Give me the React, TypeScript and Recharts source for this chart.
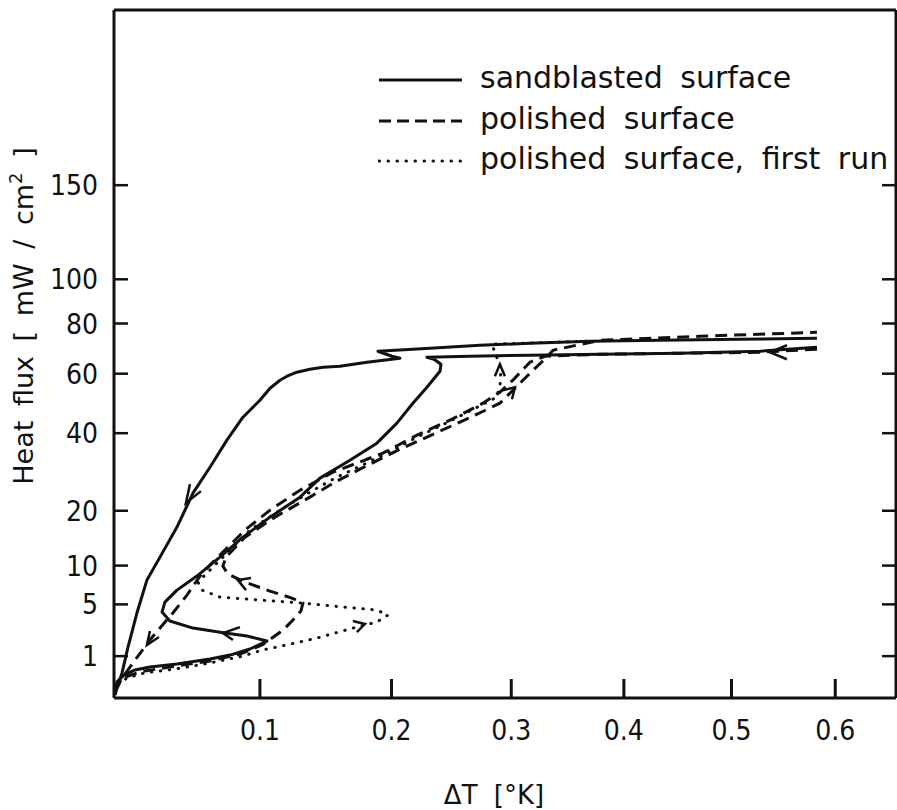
import { LineChart, Line, XAxis, YAxis, Legend } from 'recharts';

// Heat flux [mW/cm2] against ΔT [°K].
const xTicks = [0.1, 0.2, 0.3, 0.4, 0.5, 0.6];
const yTicks = [1, 5, 10, 20, 40, 60, 80, 100, 150];
const xDomain = [0.01, 0.66];
const yDomain = [0, 270];

// [ΔT, q] pairs in drawing order
const sandHeating = [
  [0.0105, 0.02], [0.0114, 0.15], [0.0149, 0.3], [0.0206, 0.45], [0.0288, 0.55], [0.0448, 0.66],
  [0.0658, 0.87], [0.0792, 1.05], [0.093, 1.37], [0.105, 1.85], [0.0909, 2.19], [0.0758, 2.41],
  [0.0548, 2.79], [0.0405, 3.38], [0.0358, 4.21], [0.0375, 5.25], [0.0448, 6.64], [0.0573, 8.48],
  [0.0724, 11.32], [0.0881, 14.76], [0.1072, 18.66], [0.1291, 23.01], [0.1441, 27.57], [0.1671, 32.26],
  [0.1883, 37.04], [0.2043, 43.08], [0.2173, 49.57], [0.2288, 55.09], [0.2396, 60.91], [0.2404, 63.54],
  [0.2346, 65.46], [0.2288, 66.23], [0.2647, 66.62], [0.3162, 67.01], [0.3783, 67.4], [0.4516, 67.8],
  [0.5271, 68.59], [0.5821, 70.18],
];
const sandCooling = [
  [0.5821, 73.82], [0.508, 73.41], [0.433, 73.0], [0.3693, 72.6], [0.3162, 71.78], [0.2732, 70.98],
  [0.2313, 69.78], [0.1891, 68.59], [0.2003, 66.62], [0.2068, 65.85], [0.1804, 64.31], [0.1593, 62.78],
  [0.1464, 62.41], [0.1365, 61.65], [0.1268, 60.54], [0.1195, 59.06], [0.1144, 57.6], [0.1072, 54.74],
  [0.1, 50.58], [0.0881, 44.98], [0.0771, 37.92], [0.0658, 30.39], [0.0548, 23.94], [0.0448, 16.66],
  [0.0346, 11.32], [0.0271, 7.93], [0.0216, 4.12], [0.0169, 1.48], [0.0139, 0.36], [0.0114, 0.057],
  [0.0105, 0.005],
];
const polishedHeating = [
  [0.0105, 0.02], [0.0119, 0.13], [0.0154, 0.25], [0.0233, 0.39], [0.0405, 0.55], [0.0658, 0.78],
  [0.086, 1.1], [0.1015, 1.6], [0.1086, 2.05], [0.1166, 2.63], [0.1239, 3.47], [0.1298, 4.31],
  [0.1313, 5.14], [0.1231, 5.7], [0.1072, 6.52], [0.0895, 7.66], [0.0778, 8.76], [0.0744, 9.92],
  [0.0765, 11.32], [0.0895, 14.76], [0.1108, 18.66], [0.1365, 23.01], [0.1555, 26.58], [0.1749, 29.87],
  [0.2068, 35.32], [0.2396, 40.61], [0.2672, 45.3], [0.2902, 49.57], [0.3014, 54.03], [0.3188, 61.28],
  [0.3311, 66.23], [0.3364, 68.98], [0.3783, 73.0], [0.4703, 74.64], [0.5821, 76.3],
];
const polishedCooling = [
  [0.5821, 69.38], [0.5271, 68.19], [0.4516, 67.8], [0.3783, 67.4], [0.3293, 66.62], [0.3162, 64.31],
  [0.3014, 57.6], [0.2902, 53.34], [0.2757, 49.57], [0.2479, 44.02], [0.2206, 39.4], [0.1931, 34.19],
  [0.154, 29.09], [0.1291, 24.64], [0.1072, 20.13], [0.0895, 16.08], [0.0758, 12.48], [0.0658, 10.08],
  [0.0593, 8.48], [0.051, 6.04], [0.0423, 4.12], [0.0346, 2.79], [0.0288, 1.92], [0.0206, 0.82],
  [0.0139, 0.23], [0.0109, 0.036],
];
const firstRun = [
  [0.0105, 0.014], [0.0124, 0.11], [0.0164, 0.23], [0.026, 0.36], [0.0436, 0.48], [0.0658, 0.7],
  [0.0881, 1.0], [0.1015, 1.31], [0.1122, 1.48], [0.1418, 2.05], [0.1725, 2.87], [0.1883, 3.29],
  [0.1971, 3.92], [0.1883, 4.41], [0.1617, 4.72], [0.1313, 5.14], [0.1, 5.47], [0.0724, 5.81],
  [0.0606, 6.64], [0.058, 7.66], [0.0671, 9.63], [0.0792, 12.48], [0.093, 16.08], [0.1144, 20.13],
  [0.1365, 24.17], [0.1555, 27.57], [0.1931, 33.63], [0.2206, 38.8], [0.2479, 43.71], [0.2757, 49.23],
  [0.2876, 51.61], [0.2911, 57.6], [0.2902, 63.16], [0.2859, 68.19], [0.2833, 71.38], [0.3075, 71.78],
  [0.3381, 72.19], [0.3666, 72.6],
];

// arrowheads: arm, tip, arm
const arrows = [
  [[0.0599, 24.41], [0.0503, 21.66], [0.0529, 26.09]],
  [[0.086, 2.87], [0.0744, 2.41], [0.0812, 1.92]],
  [[0.034, 2.12], [0.0271, 1.6], [0.0288, 2.56]],
  [[0.0902, 6.64], [0.0846, 7.93], [0.0937, 8.2]],
  [[0.1694, 3.38], [0.1788, 3.12], [0.1725, 2.48]],
  [[0.2859, 59.06], [0.2902, 63.54], [0.2945, 59.06]],
  [[0.2928, 54.03], [0.3032, 55.09], [0.3006, 50.92]],
  [[0.553, 70.98], [0.5367, 68.19], [0.553, 65.46]],
];

const legendItems = ['sandblasted surface', 'polished surface', 'polished surface, first run'];

const INK = '#111';
const DASH = '12 7';
const DOTS = '0.5 8.5';
const TICK_FONT = "'Liberation Sans Narrow', 'DejaVu Sans Condensed', 'Roboto Condensed', 'Liberation Sans', sans-serif";
const TEXT_FONT = "'DejaVu Sans', 'Noto Sans', sans-serif";
const legendDash = [undefined, '12 6', DOTS];

const rows = (pts: number[][]) => pts.map(([t, q]) => ({ t, q }));

// the ΔT axis of the original is slightly compressed towards the right
function powScale(exponent: number): any {
  let dom = [0, 1];
  let rng = [0, 1];
  const f = (v: number) => Math.sign(v) * Math.pow(Math.abs(v), exponent);
  const fi = (v: number) => Math.sign(v) * Math.pow(Math.abs(v), 1 / exponent);
  const scale: any = (v: any) => {
    const a = f(dom[0]);
    const b = f(dom[1]);
    return rng[0] + ((f(Number(v)) - a) / (b - a)) * (rng[1] - rng[0]);
  };
  scale.domain = (d?: any[]) => {
    if (d === undefined) return dom.slice();
    dom = [Number(d[0]), Number(d[d.length - 1])];
    return scale;
  };
  scale.range = (r?: any[]) => {
    if (r === undefined) return rng.slice();
    rng = [Number(r[0]), Number(r[r.length - 1])];
    return scale;
  };
  scale.invert = (p: number) => {
    const a = f(dom[0]);
    const b = f(dom[1]);
    return fi(a + ((p - rng[0]) / (rng[1] - rng[0])) * (b - a));
  };
  scale.ticks = (count = 10) => {
    const step = (dom[1] - dom[0]) / count;
    return Array.from({ length: count + 1 }, (_, i) => dom[0] + i * step);
  };
  scale.tickFormat = () => (v: number) => String(v);
  scale.nice = () => scale;
  scale.clamp = () => scale;
  scale.copy = () => powScale(exponent).domain(dom).range(rng);
  return scale;
}

const xScale = powScale(0.82);

// inward tick marks, drawn next to the labels
const LeftTick = (p: any) => (
  <g>
    <line x1={p.x + 16} x2={p.x + 30} y1={p.y} y2={p.y} stroke={INK} strokeWidth={2.5} />
    <text x={p.x} y={p.y} dy="0.36em" textAnchor="end" fill={INK} fontSize={28} fontFamily={TICK_FONT}>
      {p.payload.value}
    </text>
  </g>
);

const RightTick = (p: any) => (
  <line x1={p.x} x2={p.x - 14} y1={p.y} y2={p.y} stroke={INK} strokeWidth={2.5} />
);

const BottomTick = (p: any) => (
  <g>
    <rect x={p.x - 1.5} y={p.y - 41} width={3} height={19} fill={INK} />
    <text x={p.x} y={p.y} dy="0.71em" textAnchor="middle" fill={INK} fontSize={28} fontFamily={TICK_FONT}>
      {p.payload.value}
    </text>
  </g>
);

function FigureLegend() {
  return (
    <div style={{ fontFamily: TEXT_FONT, fontSize: 30, color: INK, wordSpacing: 8 }}>
      {legendItems.map((label, i) => (
        <div key={label} style={{ display: 'flex', alignItems: 'center', height: 40.5, lineHeight: '40.5px', whiteSpace: 'nowrap' }}>
          <svg width={86} height={10} style={{ marginRight: 16, marginTop: 4 }}>
            <line x1={1} x2={84} y1={5} y2={5} stroke={INK} strokeWidth={3} strokeDasharray={legendDash[i]} strokeLinecap={i === 2 ? 'round' : 'butt'} />
          </svg>
          <span>{label}</span>
        </div>
      ))}
    </div>
  );
}

const yTitle = () => (
  <text transform="translate(33,316) rotate(-90)" textAnchor="middle" fontFamily={TEXT_FONT} fontSize={27} fill={INK} wordSpacing={6}>
    Heat flux [ mW / cm<tspan dy={-11} fontSize={18}>2</tspan><tspan dy={11}> ]</tspan>
  </text>
);

const xTitle = (props: any) => {
  const vb = props.viewBox || { x: 114, y: 698, width: 782 };
  return (
    <text x={vb.x + vb.width / 2 - 11} y={vb.y + 106} textAnchor="middle" fontFamily={TEXT_FONT} fontSize={26} fill={INK} wordSpacing={8}>
      ΔT [°K]
    </text>
  );
};

const axisLine = { stroke: INK, strokeWidth: 3 };

export default function App() {
  return (
    <div style={{ position: 'absolute', left: 0, top: 0, width: 897, height: 810, background: '#fff' }}>
      <LineChart width={897} height={810} margin={{ top: 9, right: 0, bottom: 0, left: 0 }}>
        <XAxis
          dataKey="t"
          type="number"
          scale={xScale}
          domain={xDomain}
          allowDataOverflow
          ticks={xTicks}
          height={112}
          axisLine={axisLine}
          tickLine={false}
          tickSize={0}
          tickMargin={22}
          tick={BottomTick}
          label={{ content: xTitle }}
        />
        <XAxis xAxisId="top" orientation="top" type="number" domain={xDomain} allowDataOverflow height={1} axisLine={axisLine} tick={false} tickLine={false} />
        <YAxis
          type="number"
          scale="sqrt"
          domain={yDomain}
          allowDataOverflow
          ticks={yTicks}
          width={114}
          axisLine={axisLine}
          tickLine={false}
          tickSize={0}
          tickMargin={16}
          tick={LeftTick}
          label={{ content: yTitle }}
        />
        <YAxis
          yAxisId="right"
          orientation="right"
          type="number"
          scale="sqrt"
          domain={yDomain}
          allowDataOverflow
          ticks={yTicks}
          width={1}
          axisLine={axisLine}
          tickLine={false}
          tickSize={0}
          tickMargin={0}
          tick={RightTick}
        />
        <Legend layout="vertical" align="center" verticalAlign="middle" wrapperStyle={{ left: 378, top: 58, width: 'auto', height: 'auto' }} content={() => <FigureLegend />} />

        <Line data={rows(sandHeating)} dataKey="q" type="linear" stroke={INK} strokeWidth={3} strokeLinejoin="round" dot={false} isAnimationActive={false} />
        <Line data={rows(sandCooling)} dataKey="q" type="linear" stroke={INK} strokeWidth={3} strokeLinejoin="round" dot={false} isAnimationActive={false} />
        <Line data={rows(polishedHeating)} dataKey="q" type="linear" stroke={INK} strokeWidth={3} strokeDasharray={DASH} dot={false} isAnimationActive={false} />
        <Line data={rows(polishedCooling)} dataKey="q" type="linear" stroke={INK} strokeWidth={3} strokeDasharray={DASH} dot={false} isAnimationActive={false} />
        <Line data={rows(firstRun)} dataKey="q" type="linear" stroke={INK} strokeWidth={3} strokeDasharray={DOTS} strokeLinecap="round" dot={false} isAnimationActive={false} />
        {arrows.map((a, i) => (
          <Line key={i} data={rows(a)} dataKey="q" type="linear" stroke={INK} strokeWidth={2.5} strokeLinejoin="miter" dot={false} isAnimationActive={false} />
        ))}
      </LineChart>
    </div>
  );
}
